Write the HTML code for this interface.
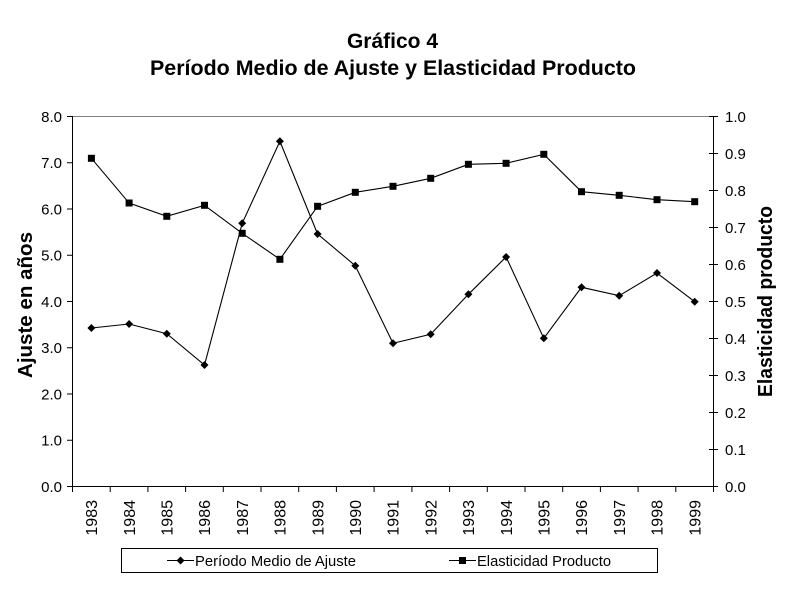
<!DOCTYPE html>
<html>
<head>
<meta charset="utf-8">
<style>
  html, body { margin: 0; padding: 0; background: #fff; }
  svg { display: block; }
  text { font-family: "Liberation Sans", Arial, sans-serif; fill: #000; }
</style>
</head>
<body>
<svg width="807" height="616" viewBox="0 0 807 616" xmlns="http://www.w3.org/2000/svg">
  <rect x="0" y="0" width="807" height="616" fill="#fff"/>

  <!-- Title -->
  <text x="392.5" y="48" font-size="21" font-weight="bold" text-anchor="middle">Gráfico 4</text>
  <text x="393" y="75" font-size="21" font-weight="bold" text-anchor="middle" textLength="486" lengthAdjust="spacingAndGlyphs">Período Medio de Ajuste y Elasticidad Producto</text>

  <!-- Plot frame -->
  <line x1="72.5" y1="116.5" x2="713.5" y2="116.5" stroke="#808080" stroke-width="1"/>
  <line x1="72.5" y1="116" x2="72.5" y2="487" stroke="#000" stroke-width="1"/>
  <line x1="713.5" y1="116" x2="713.5" y2="487" stroke="#000" stroke-width="1"/>
  <line x1="72" y1="486.5" x2="714" y2="486.5" stroke="#000" stroke-width="1"/>

  <!-- Left ticks & labels -->
  <g stroke="#000" stroke-width="1">
    <line x1="67" y1="486.5" x2="72.5" y2="486.5"/>
    <line x1="67" y1="440.25" x2="72.5" y2="440.25"/>
    <line x1="67" y1="394" x2="72.5" y2="394"/>
    <line x1="67" y1="347.75" x2="72.5" y2="347.75"/>
    <line x1="67" y1="301.5" x2="72.5" y2="301.5"/>
    <line x1="67" y1="255.25" x2="72.5" y2="255.25"/>
    <line x1="67" y1="209" x2="72.5" y2="209"/>
    <line x1="67" y1="162.75" x2="72.5" y2="162.75"/>
    <line x1="67" y1="116.5" x2="72.5" y2="116.5"/>
  </g>
  <g font-size="15" text-anchor="end">
    <text x="62" y="491.9">0.0</text>
    <text x="62" y="445.65">1.0</text>
    <text x="62" y="399.4">2.0</text>
    <text x="62" y="353.15">3.0</text>
    <text x="62" y="306.9">4.0</text>
    <text x="62" y="260.65">5.0</text>
    <text x="62" y="214.4">6.0</text>
    <text x="62" y="168.15">7.0</text>
    <text x="62" y="121.9">8.0</text>
  </g>

  <!-- Right ticks & labels -->
  <g stroke="#000" stroke-width="1">
    <line x1="709" y1="486.5" x2="718" y2="486.5"/>
    <line x1="709" y1="449.5" x2="718" y2="449.5"/>
    <line x1="709" y1="412.5" x2="718" y2="412.5"/>
    <line x1="709" y1="375.5" x2="718" y2="375.5"/>
    <line x1="709" y1="338.5" x2="718" y2="338.5"/>
    <line x1="709" y1="301.5" x2="718" y2="301.5"/>
    <line x1="709" y1="264.5" x2="718" y2="264.5"/>
    <line x1="709" y1="227.5" x2="718" y2="227.5"/>
    <line x1="709" y1="190.5" x2="718" y2="190.5"/>
    <line x1="709" y1="153.5" x2="718" y2="153.5"/>
    <line x1="709" y1="116.5" x2="718" y2="116.5"/>
  </g>
  <g font-size="15" text-anchor="start">
    <text x="725" y="491.9">0.0</text>
    <text x="725" y="454.9">0.1</text>
    <text x="725" y="417.9">0.2</text>
    <text x="725" y="380.9">0.3</text>
    <text x="725" y="343.9">0.4</text>
    <text x="725" y="306.9">0.5</text>
    <text x="725" y="269.9">0.6</text>
    <text x="725" y="232.9">0.7</text>
    <text x="725" y="195.9">0.8</text>
    <text x="725" y="158.9">0.9</text>
    <text x="725" y="121.9">1.0</text>
  </g>

  <!-- Axis titles -->
  <text x="32" y="305" font-size="20" font-weight="bold" text-anchor="middle" transform="rotate(-90 32 305)" textLength="146" lengthAdjust="spacingAndGlyphs">Ajuste en años</text>
  <text x="772" y="301.5" font-size="20" font-weight="bold" text-anchor="middle" transform="rotate(-90 772 301.5)" textLength="191" lengthAdjust="spacingAndGlyphs">Elasticidad producto</text>

  <!-- X ticks -->
  <g stroke="#000" stroke-width="1">
    <line x1="72.5" y1="486" x2="72.5" y2="492"/>
    <line x1="110.2" y1="486" x2="110.2" y2="492"/>
    <line x1="147.9" y1="486" x2="147.9" y2="492"/>
    <line x1="185.6" y1="486" x2="185.6" y2="492"/>
    <line x1="223.3" y1="486" x2="223.3" y2="492"/>
    <line x1="261.0" y1="486" x2="261.0" y2="492"/>
    <line x1="298.7" y1="486" x2="298.7" y2="492"/>
    <line x1="336.4" y1="486" x2="336.4" y2="492"/>
    <line x1="374.1" y1="486" x2="374.1" y2="492"/>
    <line x1="411.9" y1="486" x2="411.9" y2="492"/>
    <line x1="449.6" y1="486" x2="449.6" y2="492"/>
    <line x1="487.3" y1="486" x2="487.3" y2="492"/>
    <line x1="525.0" y1="486" x2="525.0" y2="492"/>
    <line x1="562.7" y1="486" x2="562.7" y2="492"/>
    <line x1="600.4" y1="486" x2="600.4" y2="492"/>
    <line x1="638.1" y1="486" x2="638.1" y2="492"/>
    <line x1="675.8" y1="486" x2="675.8" y2="492"/>
    <line x1="713.5" y1="486" x2="713.5" y2="492"/>
  </g>

  <!-- X labels (rotated) -->
  <g font-size="16" text-anchor="end">
    <text x="97.1" y="500" transform="rotate(-90 97.1 500)">1983</text>
    <text x="134.8" y="500" transform="rotate(-90 134.8 500)">1984</text>
    <text x="172.5" y="500" transform="rotate(-90 172.5 500)">1985</text>
    <text x="210.2" y="500" transform="rotate(-90 210.2 500)">1986</text>
    <text x="247.9" y="500" transform="rotate(-90 247.9 500)">1987</text>
    <text x="285.6" y="500" transform="rotate(-90 285.6 500)">1988</text>
    <text x="323.3" y="500" transform="rotate(-90 323.3 500)">1989</text>
    <text x="361.0" y="500" transform="rotate(-90 361.0 500)">1990</text>
    <text x="398.7" y="500" transform="rotate(-90 398.7 500)">1991</text>
    <text x="436.4" y="500" transform="rotate(-90 436.4 500)">1992</text>
    <text x="474.1" y="500" transform="rotate(-90 474.1 500)">1993</text>
    <text x="511.8" y="500" transform="rotate(-90 511.8 500)">1994</text>
    <text x="549.5" y="500" transform="rotate(-90 549.5 500)">1995</text>
    <text x="587.2" y="500" transform="rotate(-90 587.2 500)">1996</text>
    <text x="624.9" y="500" transform="rotate(-90 624.9 500)">1997</text>
    <text x="662.7" y="500" transform="rotate(-90 662.7 500)">1998</text>
    <text x="700.4" y="500" transform="rotate(-90 700.4 500)">1999</text>
  </g>

  <!-- Series: Elasticidad Producto (squares) -->
  <polyline fill="none" stroke="#000" stroke-width="1.1"
    points="91.4,158.3 129.1,203 166.8,216.3 204.5,205.3 242.2,233.3 279.9,259.3 317.6,206.3 355.3,192.3 393.0,186.3 430.7,178.3 468.4,164.3 506.1,163.3 543.8,154.3 581.5,191.7 619.2,195.3 657.0,199.7 694.7,201.7"/>
  <g fill="#000">
    <rect x="87.9" y="154.8" width="7" height="7"/>
    <rect x="125.6" y="199.5" width="7" height="7"/>
    <rect x="163.3" y="212.8" width="7" height="7"/>
    <rect x="201.0" y="201.8" width="7" height="7"/>
    <rect x="238.7" y="229.8" width="7" height="7"/>
    <rect x="276.4" y="255.8" width="7" height="7"/>
    <rect x="314.1" y="202.8" width="7" height="7"/>
    <rect x="351.8" y="188.8" width="7" height="7"/>
    <rect x="389.5" y="182.8" width="7" height="7"/>
    <rect x="427.2" y="174.8" width="7" height="7"/>
    <rect x="464.9" y="160.8" width="7" height="7"/>
    <rect x="502.6" y="159.8" width="7" height="7"/>
    <rect x="540.3" y="150.8" width="7" height="7"/>
    <rect x="578.0" y="188.2" width="7" height="7"/>
    <rect x="615.7" y="191.8" width="7" height="7"/>
    <rect x="653.5" y="196.2" width="7" height="7"/>
    <rect x="691.2" y="198.2" width="7" height="7"/>
  </g>

  <!-- Series: Período Medio de Ajuste (diamonds) -->
  <polyline fill="none" stroke="#000" stroke-width="1.1"
    points="91.4,328 129.1,324 166.8,333.7 204.5,365 242.2,223.3 279.9,141.3 317.6,234 355.3,265.7 393.0,343.3 430.7,334.3 468.4,294.3 506.1,257 543.8,338.3 581.5,287.3 619.2,295.7 657.0,273 694.7,301.7"/>
  <g fill="#000">
    <path d="M91.4 324 L95.4 328 L91.4 332 L87.4 328 Z"/>
    <path d="M129.1 320 L133.1 324 L129.1 328 L125.1 324 Z"/>
    <path d="M166.8 329.7 L170.8 333.7 L166.8 337.7 L162.8 333.7 Z"/>
    <path d="M204.5 361 L208.5 365 L204.5 369 L200.5 365 Z"/>
    <path d="M242.2 219.3 L246.2 223.3 L242.2 227.3 L238.2 223.3 Z"/>
    <path d="M279.9 137.3 L283.9 141.3 L279.9 145.3 L275.9 141.3 Z"/>
    <path d="M317.6 230 L321.6 234 L317.6 238 L313.6 234 Z"/>
    <path d="M355.3 261.7 L359.3 265.7 L355.3 269.7 L351.3 265.7 Z"/>
    <path d="M393.0 339.3 L397.0 343.3 L393.0 347.3 L389.0 343.3 Z"/>
    <path d="M430.7 330.3 L434.7 334.3 L430.7 338.3 L426.7 334.3 Z"/>
    <path d="M468.4 290.3 L472.4 294.3 L468.4 298.3 L464.4 294.3 Z"/>
    <path d="M506.1 253 L510.1 257 L506.1 261 L502.1 257 Z"/>
    <path d="M543.8 334.3 L547.8 338.3 L543.8 342.3 L539.8 338.3 Z"/>
    <path d="M581.5 283.3 L585.5 287.3 L581.5 291.3 L577.5 287.3 Z"/>
    <path d="M619.2 291.7 L623.2 295.7 L619.2 299.7 L615.2 295.7 Z"/>
    <path d="M657.0 269 L661.0 273 L657.0 277 L653.0 273 Z"/>
    <path d="M694.7 297.7 L698.7 301.7 L694.7 305.7 L690.7 301.7 Z"/>
  </g>

  <!-- Legend -->
  <rect x="121.5" y="548.5" width="536" height="24" fill="#fff" stroke="#000" stroke-width="1"/>
  <line x1="167" y1="560.5" x2="194" y2="560.5" stroke="#000" stroke-width="1.1"/>
  <path d="M180.5 556.5 L184.5 560.5 L180.5 564.5 L176.5 560.5 Z" fill="#000"/>
  <text x="195" y="566" font-size="15" textLength="161" lengthAdjust="spacingAndGlyphs">Período Medio de Ajuste</text>
  <line x1="449" y1="560.5" x2="476" y2="560.5" stroke="#000" stroke-width="1.1"/>
  <rect x="459" y="557" width="7" height="7" fill="#000"/>
  <text x="477" y="566" font-size="15" textLength="134" lengthAdjust="spacingAndGlyphs">Elasticidad Producto</text>
</svg>
</body>
</html>
